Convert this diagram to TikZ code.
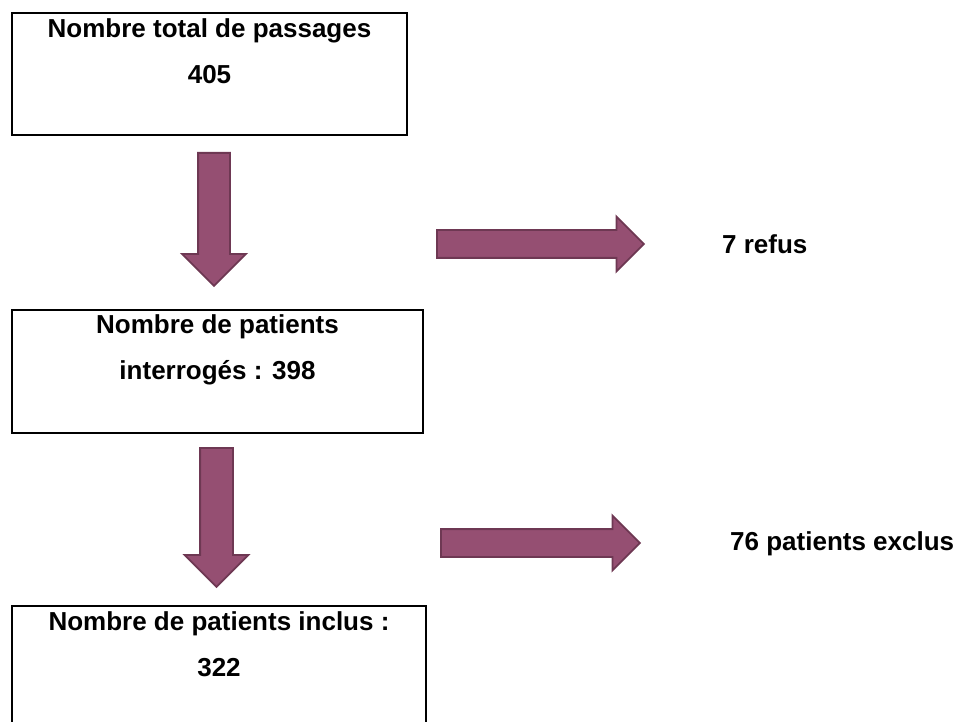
\documentclass[tikz,border=0pt]{standalone}
\usepackage{fontspec}
\setmainfont{Liberation Sans}
\usetikzlibrary{shapes.arrows}
\definecolor{plum}{HTML}{954F72}
\definecolor{plumdark}{HTML}{6E3853}

\begin{document}
\begin{tikzpicture}[x=1pt, y=-1pt]
        \tikzstyle{box}=[draw,line width=2.8pt,inner sep=0pt]
        \tikzstyle{boxtext}=[font=\fontsize{26}{46}\selectfont\bfseries,align=center,inner sep=0pt,anchor=north]
        \tikzstyle{sidetext}=[font=\fontsize{26}{30}\selectfont\bfseries,inner sep=0pt,anchor=base west]
        \tikzstyle{blockarrow}=[single arrow,fill=plum,draw=plumdark,line width=1.8pt,anchor=tail]
        \tikzstyle{downarrow}=[blockarrow,shape border rotate=270,inner ysep=0pt]
        \tikzstyle{sidearrow}=[blockarrow,inner xsep=0pt,inner ysep=13pt,single arrow head extend=13.5pt]

        \useasboundingbox (0,0) rectangle (959,722);

        \node[box,minimum width=395pt,minimum height=122pt] (B_1) at (209.5,74)  {};
        \node[box,minimum width=411pt,minimum height=123pt] (B_2) at (217.5,371.5)  {};
        \node[box,minimum width=414pt,minimum height=154pt] (B_3) at (219,683)  {};

        \node[boxtext] (T_1) at ([yshift=-7pt]B_1.north) {Nombre total de passages\\405};
        \node[boxtext] (T_2) at ([yshift=-6pt]B_2.north) {Nombre de patients\\interrogés : 398};
        \node[boxtext] (T_3) at ([yshift=-7pt]B_3.north) {Nombre de patients inclus :\\322};

        \node[downarrow,minimum height=133pt,inner xsep=15pt,single arrow head extend=16pt] (D_1) at (214,152) {};
        \node[downarrow,minimum height=139pt,inner xsep=15.5pt,single arrow head extend=15.5pt] (D_2) at (216.5,447) {};
        \node[sidearrow,minimum height=207pt] (S_1) at (436,244) {};
        \node[sidearrow,minimum height=199pt] (S_2) at (440,543) {};

        \node[sidetext] (R_1) at (722,254) {7 refus};
        \node[sidetext] (R_2) at (730,550) {76 patients exclus};
    \end{tikzpicture}
\end{document}
